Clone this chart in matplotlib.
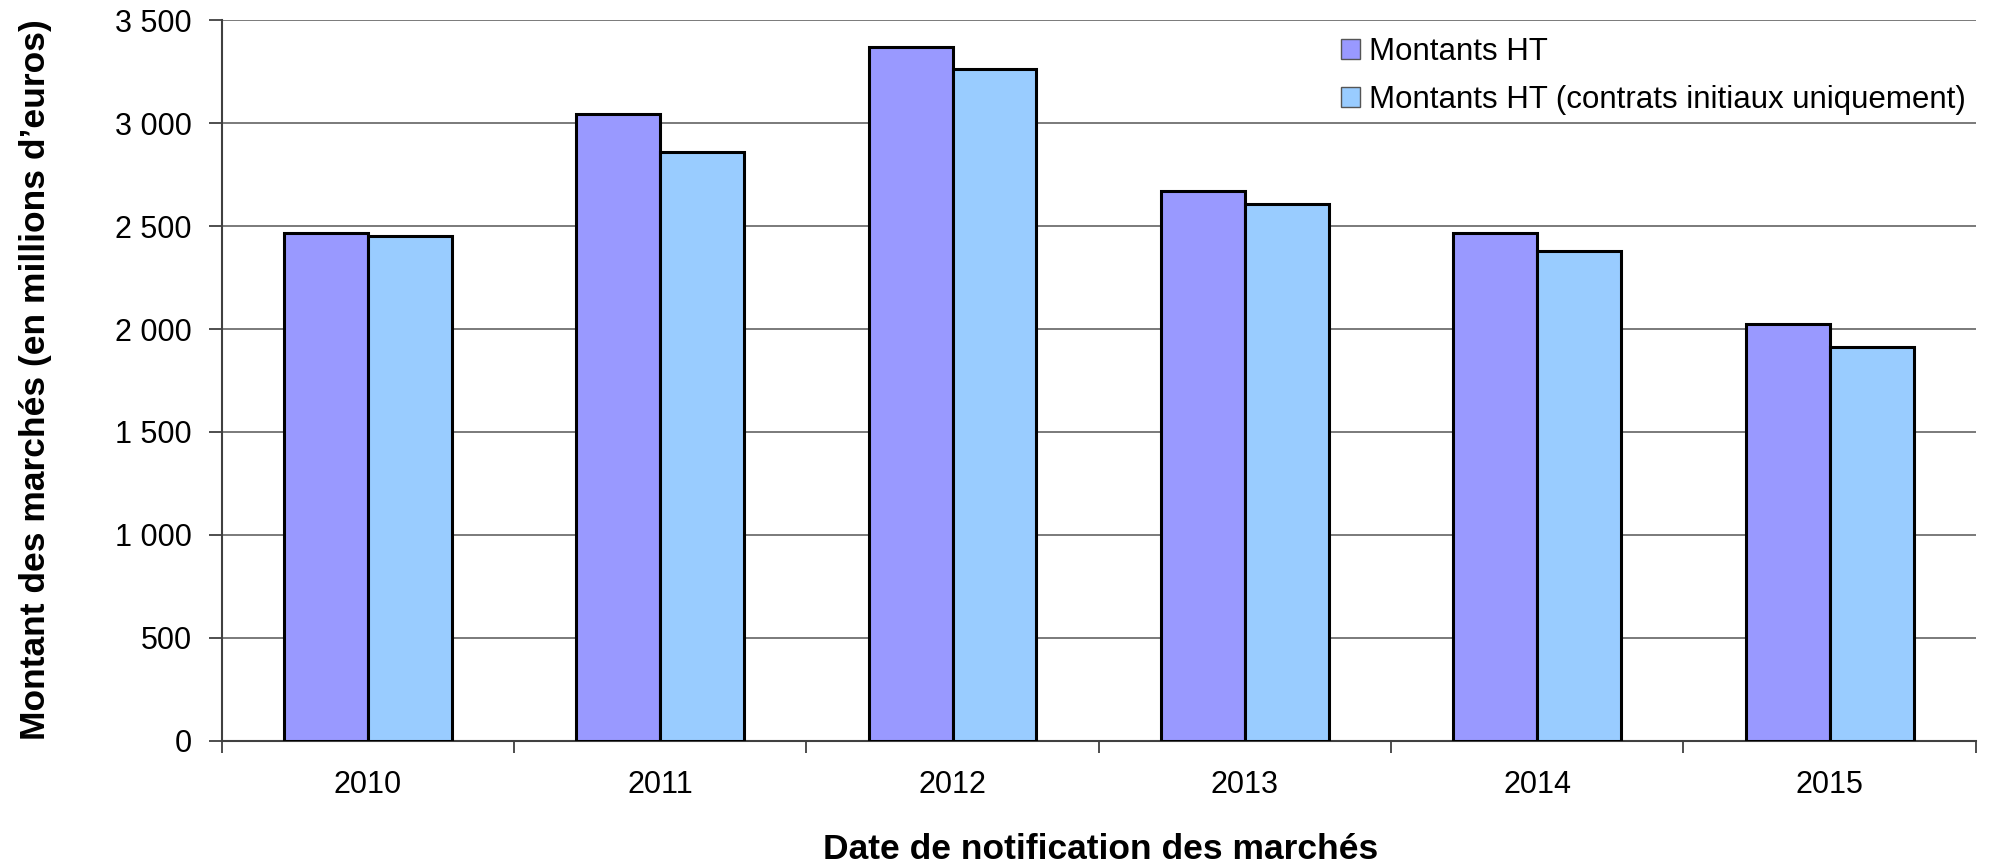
import matplotlib.pyplot as plt
from matplotlib.ticker import FuncFormatter, FixedLocator
import numpy as np

plt.rcParams['font.family'] = ['Liberation Sans', 'DejaVu Sans']

years = ['2010', '2011', '2012', '2013', '2014', '2015']
montants_ht = [2465, 3044, 3367, 2668, 2465, 2023]
montants_ht_initiaux = [2451, 2859, 3261, 2607, 2379, 1914]

purple = '#9999ff'
blue = '#99ccff'
width = 0.287

fig = plt.figure(figsize=(19.93, 8.63), dpi=100)
ax = fig.add_axes([0.1112, 0.1414, 0.8802, 0.8354])

x = np.arange(len(years))
ax.bar(x - width / 2, montants_ht, width, color=purple, edgecolor='black',
       linewidth=2.2, label='Montants HT', zorder=3)
ax.bar(x + width / 2, montants_ht_initiaux, width, color=blue, edgecolor='black',
       linewidth=2.2, label='Montants HT (contrats initiaux uniquement)', zorder=3)

ax.set_xlim(-0.5, len(years) - 0.5)
ax.set_ylim(0, 3500)
ax.set_yticks(np.arange(0, 3501, 500))
ax.yaxis.set_major_formatter(FuncFormatter(lambda v, p: f"{int(v):,}".replace(',', ' ')))
ax.grid(axis='y', color='#707070', linewidth=1.3, zorder=0)

# category boundaries as ticks, labels on minor ticks at centres
ax.xaxis.set_major_locator(FixedLocator(np.arange(-0.5, len(years), 1.0)))
ax.xaxis.set_minor_locator(FixedLocator(x))
ax.set_xticklabels([])
ax.set_xticklabels(years, minor=True)
ax.tick_params(axis='x', which='major', length=8.6, width=1.3, color='#404040')
ax.tick_params(axis='x', which='minor', length=0, labelsize=22, pad=21)
ax.tick_params(axis='y', length=9.4, width=1.3, color='#404040', labelsize=22, pad=12)

for side in ['top', 'right']:
    ax.spines[side].set_visible(False)
ax.spines['left'].set_color('#404040')
ax.spines['left'].set_linewidth(1.5)
ax.spines['bottom'].set_color('#404040')
ax.spines['bottom'].set_linewidth(1.5)

fig.text(36 / 1993, 0.5597, "Montant des marchés (en millions d’euros)", fontsize=25.5,
         fontweight='bold', rotation=90, ha='center', va='center')
fig.text(0.5524, 0.0162, "Date de notification des marchés", fontsize=25.5,
         fontweight='bold', ha='center', va='center')

leg = ax.legend(loc='upper left', bbox_to_anchor=(0.638, 0.977), frameon=False,
                fontsize=22.5, handlelength=0.6, handleheight=0.6,
                handletextpad=0.3, labelspacing=0.58, borderaxespad=0, borderpad=0)
for h in leg.legend_handles:
    h.set_linewidth(1)
    h.set_edgecolor('#555555')

fig.savefig('out.png', dpi=100)
